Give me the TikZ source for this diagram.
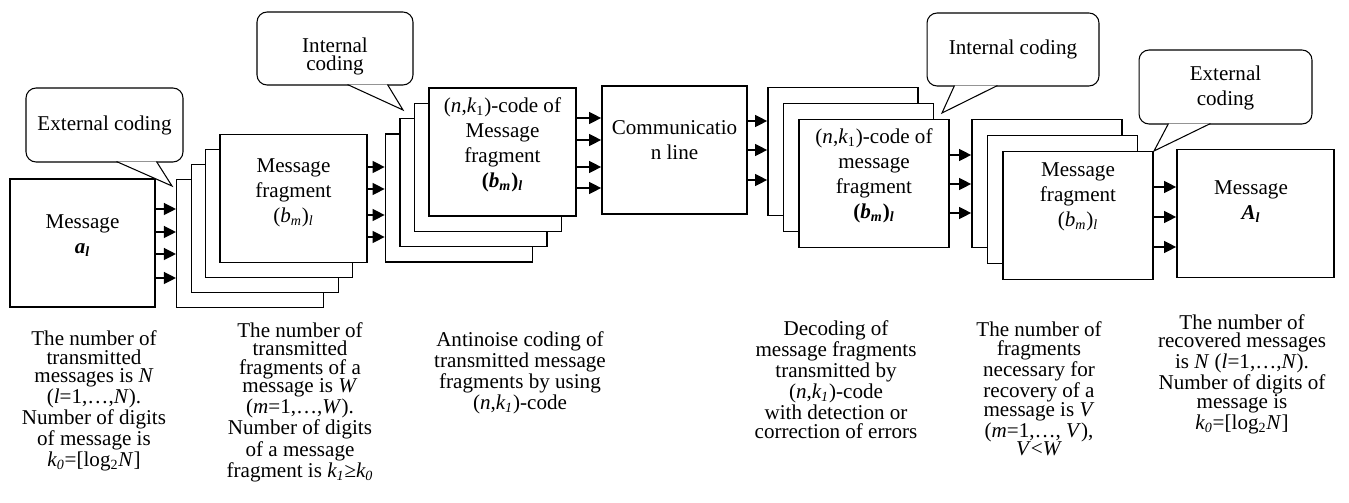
\documentclass[tikz,border=0pt]{standalone}
\usepackage{fontspec}
\setmainfont{Liberation Serif}
\usetikzlibrary{arrows.meta,calc}
\newcommand{\subtxt}[1]{\textsubscript{#1}}
\newcommand{\boxfont}{\fontsize{12}{14.2}\selectfont}
\newcommand{\notefont}{\fontsize{12}{10.6}\selectfont}

\begin{document}
\begin{tikzpicture}[x=0.02cm,y=-0.02cm,
  box/.style={draw,fill=white,line width=0.7pt,inner sep=0pt,
    minimum width=2.94cm,minimum height=2.56cm},
  boxtext/.style={align=center,font=\boxfont,inner sep=0pt},
  note/.style={align=center,font=\notefont,inner sep=0pt},
  bubble/.style={draw,line width=0.6pt,rounded corners=5.7pt,inner sep=0pt},
  tail/.style={line width=0.6pt},
  arr/.style={line width=1.7pt,-{Triangle[length=7pt,width=6.5pt]}}]
  \useasboundingbox (0,0) rectangle (1349,503);

  \node[box,minimum width=2.9cm] (msgA) at (82.5,243) {};
  \foreach \i/\k in {4/3,3/2,2/1,1/0}
    \node[box] (fragA\i) at ({293.5-14.4*\k},{198.5+15*\k}) {};
  \foreach \i/\k in {4/3,3/2,2/1,1/0}
    \node[box] (codeA\i) at ({502.5-14.5*\k},{152+15.3*\k}) {};
  \node[box,minimum width=2.9cm] (chan) at (674.5,150) {};
  \foreach \i/\k in {3/2,2/1,1/0}
    \node[box,minimum width=3cm] (codeB\i) at ({874-15.5*\k},{183.5-16*\k}) {};
  \foreach \i/\k in {3/2,2/1,1/0}
    \node[box,minimum width=3cm] (fragB\i) at ({1078-15.5*\k},{215.5-16*\k}) {};
  \node[box,minimum width=3.14cm] (msgB) at (1255.5,213.5) {};

  \node[boxtext] (msgAt) at ($(msgA)+(0,-7)$)
    {Message\\\textbf{\textit{a\subtxt{l}}}};
  \node[boxtext] (fragAt) at ($(fragA1)+(0,-5.5)$)
    {Message\\fragment\\(\textit{b}\subtxt{\textit{m}})\subtxt{\textit{l}}};
  \node[boxtext] (codeAt) at ($(codeA1)+(0,-7)$)
    {(\textit{n},\textit{k}\subtxt{1})-code of\\Message\\fragment\\
     \textbf{(\textit{b}\subtxt{\textit{m}})\subtxt{\textit{l}}}};
  \node[boxtext] (chant) at ($(chan)+(0,-9.5)$) {Communicatio\\n line};
  \node[boxtext] (codeBt) at ($(codeB1)+(0,-7.5)$)
    {(\textit{n},\textit{k}\subtxt{1})-code of\\message\\fragment\\
     \textbf{(\textit{b}\subtxt{\textit{m}})\subtxt{\textit{l}}}};
  \node[boxtext] (fragBt) at ($(fragB1)+(0,-18.5)$)
    {Message\\fragment\\(\textit{b}\subtxt{\textit{m}})\subtxt{\textit{l}}};
  \node[boxtext] (msgBt) at ($(msgB)+(-4.5,-11.5)$)
    {Message\\\textbf{\textit{A\subtxt{l}}}};

  \foreach \y in {209,232,254,278}
    \draw[arr] (msgA.east |- 0,\y) -- (fragA4.west |- 0,\y);
  \foreach \y in {167,189,215,237}
    \draw[arr] (fragA1.east |- 0,\y) -- (codeA4.west |- 0,\y);
  \foreach \y in {118,140,167,188}
    \draw[arr] (codeA1.east |- 0,\y) -- (chan.west |- 0,\y);
  \foreach \y in {121,150,180}
    \draw[arr] (chan.east |- 0,\y) -- (codeB3.west |- 0,\y);
  \foreach \y in {155,184,213}
    \draw[arr] (codeB1.east |- 0,\y) -- (fragB3.west |- 0,\y);
  \foreach \y in {187,217,247}
    \draw[arr] (fragB1.east |- 0,\y) -- (msgB.west |- 0,\y);

  \node[bubble,minimum width=3.14cm,minimum height=1.48cm] (extA) at (104.5,125) {};
  \coordinate (extAtip) at (172,186);
  \fill[white] ($(extA.south west)+(91,-1)$) -- (extAtip) -- ($(extA.south west)+(131,-1)$) -- cycle;
  \draw[tail] ($(extA.south west)+(91,-1)$) -- (extAtip) -- ($(extA.south west)+(131,-1)$);
  \node[boxtext] (extAt) at (extA) {External coding};

  \node[bubble,minimum width=3.12cm,minimum height=1.46cm] (intA) at (335,48.5) {};
  \coordinate (intAtip) at (403,110);
  \fill[white] ($(intA.south west)+(91,-1)$) -- (intAtip) -- ($(intA.south west)+(131,-1)$) -- cycle;
  \draw[tail] ($(intA.south west)+(91,-1)$) -- (intAtip) -- ($(intA.south west)+(131,-1)$);
  \node[boxtext,font=\fontsize{12}{10.6}\selectfont] (intAt) at ($(intA)+(0,8)$) {Internal\\coding};

  \node[bubble,minimum width=3.44cm,minimum height=1.46cm] (intB) at (1013,49.5) {};
  \coordinate (intBtip) at (942,113);
  \fill[white] ($(intB.south west)+(28,-1)$) -- (intBtip) -- ($(intB.south west)+(71,-1)$) -- cycle;
  \draw[tail] ($(intB.south west)+(28,-1)$) -- (intBtip) -- ($(intB.south west)+(71,-1)$);
  \node[boxtext] (intBt) at (intB) {Internal coding};

  \node[bubble,minimum width=3.46cm,minimum height=1.48cm] (extB) at (1225.5,87) {};
  \coordinate (extBtip) at (1154,151);
  \fill[white] ($(extB.south west)+(30,-1)$) -- (extBtip) -- ($(extB.south west)+(72,-1)$) -- cycle;
  \draw[tail] ($(extB.south west)+(30,-1)$) -- (extBtip) -- ($(extB.south west)+(72,-1)$);
  \node[boxtext] (extBt) at ($(extB)+(0,1)$) {External\\coding};

  \node[note] (noteA) at (94,401)
    {The number of\\transmitted\\messages is \textit{N}\\(\textit{l}=1,…,\textit{N}).\\
     Number of digits\\of message is\\\textit{k\subtxt{0}}=[log\subtxt{2}\textit{N}]};
  \node[note] (noteB) at (300,402)
    {The number of\\transmitted\\fragments of a\\message is \textit{W}\\
     (\textit{m}=1,…,\textit{W}).\\Number of digits\\of a message\\
     fragment is \textit{k\subtxt{1}}≥\textit{k\subtxt{0}}};
  \node[note] (noteC) at (520,372.5)
    {Antinoise coding of\\transmitted message\\fragments by using\\
     (\textit{n},\textit{k\subtxt{1}})-code};
  \node[note] (noteD) at (836,379.5)
    {Decoding of\\message fragments\\transmitted by\\(\textit{n},\textit{k\subtxt{1}})-code\\
     with detection or\\correction of errors};
  \node[note] (noteE) at (1039,389)
    {The number of\\fragments\\necessary for\\recovery of a\\message is \textit{V}\\
     (\textit{m}=1,…, \textit{V}),\\\textit{V}<\textit{W}};
  \node[note] (noteF) at (1242,374)
    {The number of\\recovered messages\\is \textit{N} (\textit{l}=1,…,\textit{N}).\\
     Number of digits of\\message is\\\textit{k\subtxt{0}}=[log\subtxt{2}\textit{N}]};
\end{tikzpicture}
\end{document}
